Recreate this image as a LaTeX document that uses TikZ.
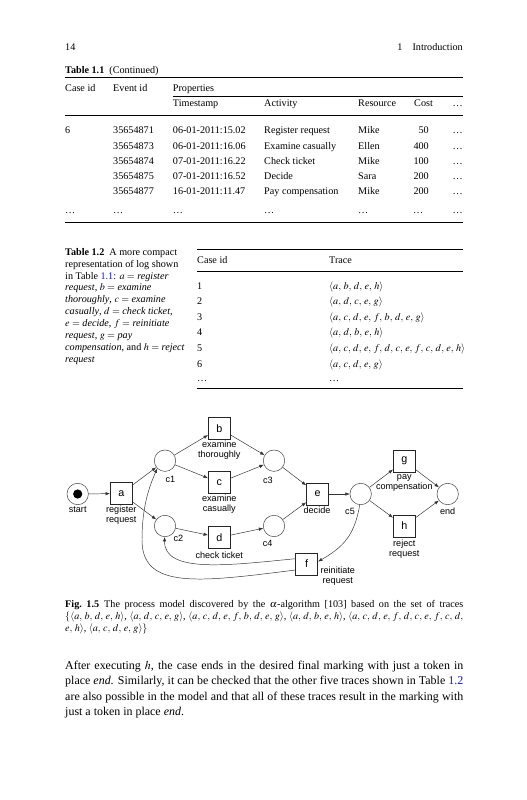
\documentclass[tikz,border=0pt]{standalone}
\usepackage{mathptmx}
\usepackage{fontspec}
\setmainfont{Liberation Serif}
\newfontfamily\diagfont{Liberation Sans}
\usetikzlibrary{arrows.meta}
\definecolor{linkblue}{RGB}{20,20,235}
\thinmuskip=4.3mu
\newcommand{\trace}[1]{$\langle #1\rangle$}
\newcommand{\fullline}[1]{\makebox[117.1mm][s]{#1}}

\begin{document}
\begin{tikzpicture}[x=0.2942mm, y=0.2942mm,
    txt/.style={anchor=base west, inner sep=0pt, font=\fontsize{8.5}{9.9}\selectfont},
    body/.style={anchor=base west, inner sep=0pt, font=\fontsize{10}{13}\selectfont},
    thinrule/.style={line width=0.45pt},
    thickrule/.style={line width=0.9pt},
    place/.style={circle, draw=black!70, line width=0.45pt, minimum size=6.3mm, inner sep=0pt},
    trans/.style={rectangle, draw=black!85, line width=0.6pt, minimum size=6.45mm, inner sep=0pt,
      font=\diagfont\fontsize{9}{10}\selectfont},
    lbl/.style={align=center, inner sep=0pt, font=\diagfont\fontsize{7.6}{8.6}\selectfont},
    arc/.style={-{Latex[length=1.3mm,width=1mm]}, draw=black!80, line width=0.4pt}]
    \fill[white] (0,0) rectangle (527,-800);
    \useasboundingbox (0,0) rectangle (527,-800);

    % running head
    \node[txt] (pageno) at (65,-50.5) {14};
    \node[txt, anchor=base east] (runhead) at (463,-50.5) {1\quad Introduction};

    % Table 1.1
    \node[txt] (t1cap) at (65,-73.5) {\textbf{Table 1.1}\enspace(Continued)};
    \draw[thinrule] (65,-77.5) -- (463,-77.5);
    \node[txt] (h-case) at (65,-92) {Case id};
    \node[txt] (h-event) at (113,-92) {Event id};
    \node[txt] (h-prop) at (172.7,-92) {Properties};
    \draw[thinrule] (172.7,-96) -- (463,-96);
    \node[txt] (h-time) at (172.7,-106.5) {Timestamp};
    \node[txt] (h-act) at (264,-106.5) {Activity};
    \node[txt] (h-res) at (358,-106.5) {Resource};
    \node[txt] (h-cost) at (414,-106.5) {Cost};
    \node[txt, anchor=base east] (h-more) at (463,-106.5) {\ldots};
    \draw[thickrule] (65,-115.5) -- (463,-115.5);
    \node[txt] (case6) at (65,-134) {6};
    \foreach \ev/\ts/\act/\res/\cost [count=\i] in {
        35654871/06-01-2011:15.02/Register request/Mike/50,
        35654873/06-01-2011:16.06/Examine casually/Ellen/400,
        35654874/07-01-2011:16.22/Check ticket/Mike/100,
        35654875/07-01-2011:16.52/Decide/Sara/200,
        35654877/16-01-2011:11.47/Pay compensation/Mike/200} {
      \pgfmathsetmacro\yy{-134-15.1*(\i-1)}
      \node[txt] (ev\i) at (113,\yy) {\ev};
      \node[txt] (ts\i) at (172.7,\yy) {\ts};
      \node[txt] (act\i) at (264,\yy) {\act};
      \node[txt] (res\i) at (358,\yy) {\res};
      \node[txt, anchor=base east] (cost\i) at (429,\yy) {\cost};
      \node[txt, anchor=base east] (more\i) at (463,\yy) {\ldots};
    }
    \foreach \x [count=\i] in {65,113,172.7,264,358,413} {
      \node[txt] (dots\i) at (\x,-214) {\ldots};
    }
    \node[txt, anchor=base east] (dots7) at (463,-214) {\ldots};
    \draw[thinrule] (65,-222) -- (463,-222);

    % Table 1.2
    \foreach \ln [count=\i] in {
        {\textbf{Table 1.2}\enspace A more compact},
        {representation of log shown},
        {in Table \textcolor{linkblue}{1.1}: $a =$ \emph{register}},
        {\emph{request}, $b =$ \emph{examine}},
        {\emph{thoroughly}, $c =$ \emph{examine}},
        {\emph{casually}, $d =$ \emph{check ticket},},
        {$e =$ \emph{decide}, $f =$ \emph{reinitiate}},
        {\emph{request}, $g =$ \emph{pay}},
        {\emph{compensation}, and $h =$ \emph{reject}},
        {\emph{request}}} {
      \pgfmathsetmacro\yy{-255.3-11.86*(\i-1)}
      \node[txt] (t2cap\i) at (65,\yy) {\ln};
    }
    \draw[thinrule] (197,-249.5) -- (463,-249.5);
    \node[txt] (h2-case) at (197,-263) {Case id};
    \node[txt] (h2-trace) at (329,-263) {Trace};
    \draw[thickrule] (197,-271.5) -- (463,-271.5);
    \foreach \tr [count=\i] in {{a,b,d,e,h}, {a,d,c,e,g}, {a,c,d,e,f,b,d,e,g},
        {a,d,b,e,h}, {a,c,d,e,f,d,c,e,f,c,d,e,h}, {a,c,d,e,g}} {
      \pgfmathsetmacro\yy{-289-15.6*(\i-1)}
      \node[txt] (id\i) at (197,\yy) {\i};
      \node[txt] (tr\i) at (329,\yy) {\trace{\tr}};
    }
    \node[txt] (id-more) at (197,-381) {\ldots};
    \node[txt] (tr-more) at (329,-381) {\ldots};
    \draw[thinrule] (197,-388) -- (463,-388);

    % process model
    \node[place] (pstart) at (77.7,-494) {};
    \fill[black] (pstart) circle (4.6);
    \node[trans] (a) at (121.3,-493.5) {a};
    \node[place] (c1) at (165,-460.7) {};
    \node[place] (c2) at (165,-526) {};
    \node[trans] (b) at (219.3,-428.3) {b};
    \node[trans] (c) at (219.3,-482.7) {c};
    \node[trans] (d) at (219.3,-537.5) {d};
    \node[place] (c3) at (274,-460.7) {};
    \node[place] (c4) at (274,-526) {};
    \node[trans] (e) at (317.5,-494) {e};
    \node[place] (c5) at (360.7,-494) {};
    \node[trans] (g) at (404.3,-461) {g};
    \node[trans] (h) at (404.3,-526) {h};
    \node[place] (pend) at (447.7,-494) {};
    \node[trans] (f) at (306.7,-564) {f};

    \node[lbl] (l-start) at (77.7,-510) {start};
    \node[lbl] (l-a) at (121.3,-515.5) {register\\request};
    \node[lbl] (l-c1) at (170.5,-479) {c1};
    \node[lbl] (l-c2) at (178.5,-538.7) {c2};
    \node[lbl] (l-b) at (219.3,-450.2) {examine\\thoroughly};
    \node[lbl] (l-c) at (219.3,-504.2) {examine\\casually};
    \node[lbl] (l-d) at (219.3,-555.7) {check ticket};
    \node[lbl] (l-c3) at (268,-480) {c3};
    \node[lbl] (l-c4) at (267.7,-543) {c4};
    \node[lbl] (l-e) at (317,-510.5) {decide};
    \node[lbl] (l-c5) at (350,-511) {c5};
    \node[lbl] (l-g) at (404.3,-483) {pay\\compensation};
    \node[lbl] (l-h) at (404.3,-549) {reject\\request};
    \node[lbl] (l-end) at (447.7,-511.5) {end};
    \node[lbl] (l-f) at (337.8,-575.8) {reinitiate\\request};

    \foreach \from/\to in {pstart/a, a/c1, a/c2, c1/b, c1/c, c2/d, b/c3, c/c3, d/c4,
        c3/e, c4/e, e/c5, c5/g, c5/h, g/pend, h/pend} {
      \draw[arc] (\from) -- (\to);
    }
    \draw[arc] (c5.-95) to[out=-100, in=30, looseness=1.1] (f.12);
    \draw[arc] (f.155) .. controls (230,-565) and (164,-574) .. (c2.-92);
    \draw[arc] (f.208) .. controls (200,-582) and (142,-590) .. (142,-540)
      .. controls (142,-505) and (150,-485) .. (c1.225);

    % caption
    \node[txt] (fcap1) at (65,-607) {\fullline{\textbf{Fig.~1.5}\enspace The process model discovered by the $\alpha$-algorithm [103] based on the set of traces}};
    \node[txt] (fcap2) at (65,-619) {\fullline{$\{\langle a,b,d,e,h\rangle$, $\langle a,d,c,e,g\rangle$, $\langle a,c,d,e,f,b,d,e,g\rangle$, $\langle a,d,b,e,h\rangle$, $\langle a,c,d,e,f,d,c,e,f,c,d,$}};
    \node[txt] (fcap3) at (65,-631) {$e,h\rangle$, $\langle a,c,d,e,g\rangle\}$};

    % running text
    \node[body] (par1) at (65,-669) {\fullline{After executing $h$, the case ends in the desired final marking with just a token in}};
    \node[body] (par2) at (65,-684.5) {\fullline{place \emph{end}. Similarly, it can be checked that the other five traces shown in Table \textcolor{linkblue}{1.2}}};
    \node[body] (par3) at (65,-700) {\fullline{are also possible in the model and that all of these traces result in the marking with}};
    \node[body] (par4) at (65,-715.5) {just a token in place \emph{end}.};
  \end{tikzpicture}
\end{document}
